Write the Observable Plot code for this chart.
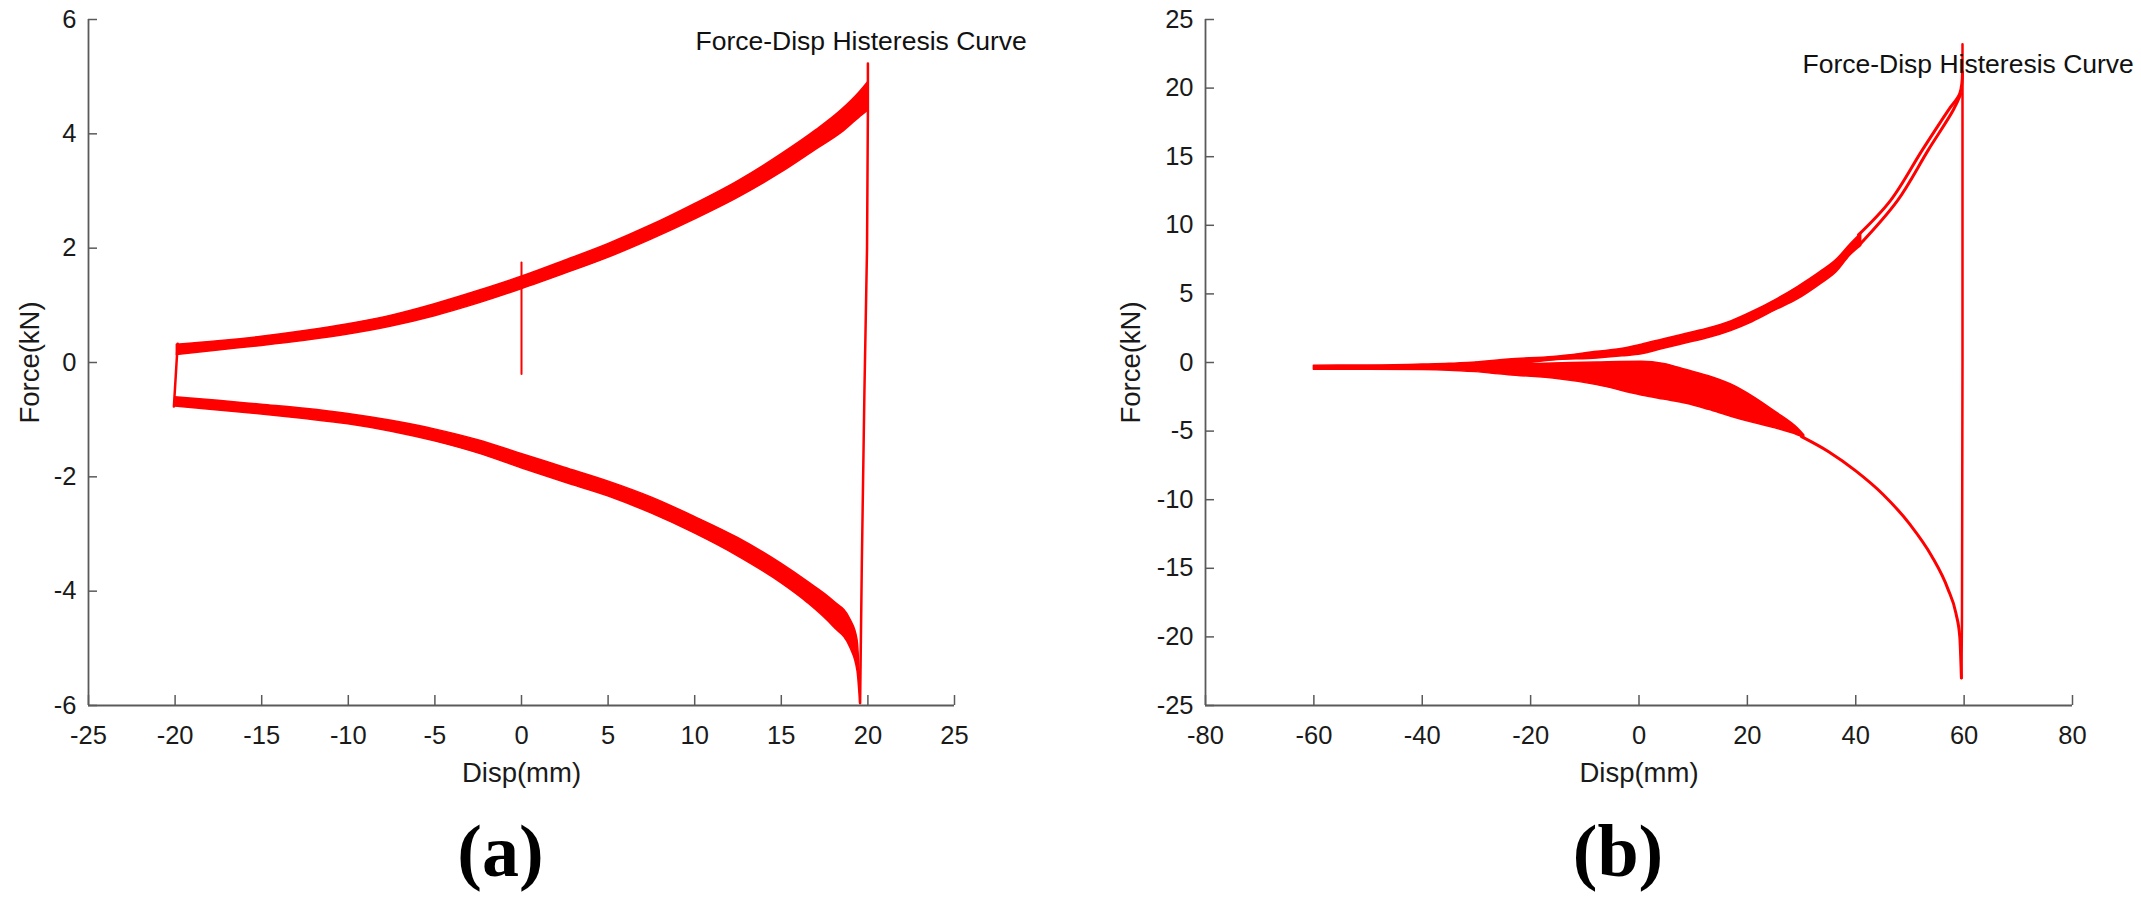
<!DOCTYPE html>
<html>
<head>
<meta charset="utf-8">
<script src="https://cdn.jsdelivr.net/npm/d3@7"></script>
<script src="https://cdn.jsdelivr.net/npm/@observablehq/plot@0.6"></script>
<style>
  html, body { margin: 0; padding: 0; background: #fff; }
  #fig { position: relative; width: 2141px; height: 907px; background: #fff; overflow: hidden; }
  #fig > svg { position: absolute; top: 0; }
</style>
</head>
<body>
<div id="fig"></div>
<script>
// ---------- Panel (a) data ----------
const aXTicks = [-25, -20, -15, -10, -5, 0, 5, 10, 15, 20, 25];
const aYTicks = [-6, -4, -2, 0, 2, 4, 6];

const aUpperX  = [-19.9, -17.5, -15, -12.5, -10, -7.5, -5, -2.5, 0, 2.5, 5, 7.5, 10, 12.5, 15, 17, 18.5, 19.5, 20];
const aUpperLo = [0.13, 0.21, 0.29, 0.38, 0.49, 0.63, 0.81, 1.03, 1.28, 1.55, 1.83, 2.15, 2.50, 2.88, 3.32, 3.72, 4.02, 4.28, 4.40];
const aUpperHi = [0.31, 0.37, 0.45, 0.55, 0.67, 0.82, 1.02, 1.25, 1.50, 1.78, 2.07, 2.40, 2.77, 3.17, 3.64, 4.06, 4.42, 4.72, 4.90];

const aLowerX  = [-20, -17.5, -15, -12.5, -10, -7.5, -5, -2.5, 0, 2.5, 5, 7.5, 10, 12.5, 15, 16.5, 18, 19, 19.4, 19.55];
const aLowerHi = [-0.61, -0.67, -0.74, -0.81, -0.90, -1.02, -1.17, -1.36, -1.60, -1.84, -2.08, -2.36, -2.70, -3.07, -3.52, -3.83, -4.17, -4.50, -4.85, -5.55];
const aLowerLo = [-0.77, -0.84, -0.91, -0.99, -1.08, -1.21, -1.38, -1.59, -1.85, -2.10, -2.34, -2.64, -2.99, -3.39, -3.86, -4.20, -4.62, -5.00, -5.40, -5.96];

const aRiseX  = [19.55, 19.65, 19.8, 19.95, 20.0, 20.0];
const aRiseY  = [-5.96, -3.5, -0.5, 2.0, 4.4, 5.23];
const aLeftX  = [-20.07, -19.85];
const aLeftY  = [-0.77, 0.33];
const aSpikeX = [0, 0];
const aSpikeY = [-0.2, 1.75];

// ---------- Panel (b) data ----------
const bXTicks = [-80, -60, -40, -20, 0, 20, 40, 60, 80];
const bYTicks = [-25, -20, -15, -10, -5, 0, 5, 10, 15, 20, 25];

const bStartX  = [-60, -50, -40, -35, -30];
const bStartLo = [-0.52, -0.52, -0.55, -0.60, -0.70];
const bStartHi = [-0.23, -0.22, -0.15, -0.10, 0.00];

const bUpX  = [-30, -24, -15.8, -7.7, -3, 0.5, 4.6, 8.8, 13, 17, 21, 25.2, 29.3, 33.5, 36.5, 39, 41];
const bUpLo = [-0.30, -0.20, 0.15, 0.30, 0.45, 0.60, 1.00, 1.40, 1.80, 2.30, 2.95, 3.80, 4.60, 5.70, 6.60, 7.80, 8.50];
const bUpHi = [0.00, 0.22, 0.40, 0.78, 1.00, 1.30, 1.70, 2.10, 2.50, 3.00, 3.70, 4.55, 5.50, 6.60, 7.50, 8.60, 9.40];

const bLowX  = [-30, -24, -15.8, -7.7, 0.5, 4.6, 8.8, 12.9, 17, 21.1, 25.2, 29.3, 30.5];
const bLowHi = [-0.10, -0.15, -0.07, 0.00, 0.05, -0.10, -0.55, -1.00, -1.60, -2.50, -3.60, -4.80, -5.30];
const bLowLo = [-0.70, -0.93, -1.17, -1.65, -2.40, -2.70, -3.00, -3.45, -3.95, -4.40, -4.80, -5.30, -5.50];

const bDownX = [30, 35, 40, 45, 50, 54, 57, 58.5, 59.2, 59.5];
const bDownY = [-5.4, -6.5, -7.9, -9.6, -11.8, -14.1, -16.5, -18.3, -20, -23];

const bVertX = [59.5, 59.6, 59.7, 59.7];
const bVertY = [-23, -19, 0, 23.2];

const bUp1X = [40.5, 46.4, 52.3, 57.1, 59.2, 59.7];
const bUp1Y = [9.3, 11.8, 15.5, 18.4, 19.6, 21.2];
const bUp2X = [40.5, 47.7, 53.4, 58.0, 59.4];
const bUp2Y = [8.5, 11.8, 15.5, 18.4, 19.6];

// ---------- texts ----------
const titleText = "Force-Disp Histeresis Curve";
const xLabel = "Disp(mm)";
const yLabel = "Force(kN)";
const captions = ["(a)", "(b)"];

// ---------- helpers ----------
const band = (xs, lo, hi) => xs.map((x, i) => ({x, y1: lo[i], y2: hi[i]}));
const pts = (xs, ys) => xs.map((x, i) => ({x, y: ys[i]}));

const RED = "#ff0000";
const AX = "#5a5a5a";
const SANS = "Liberation Sans, Arial, Helvetica, sans-serif";
const SERIF = "Liberation Serif, Times New Roman, serif";

function panel({left, width, mLeft, mRight, xDomain, yDomain, xTicks, yTicks, marks, titleDx, titleDy, yLabelDx, caption}) {
  const mTop = 19, mBottom = 907 - 705, height = 907;
  const frameW = width - mLeft - mRight, frameH = height - mTop - mBottom;
  const svg = Plot.plot({
    width, height,
    marginLeft: mLeft, marginRight: mRight, marginTop: mTop, marginBottom: mBottom,
    style: {fontFamily: SANS, color: "#1a1a1a", background: "transparent", overflow: "visible"},
    x: {domain: xDomain, nice: false},
    y: {domain: yDomain, nice: false},
    marks: [
      ...marks,
      Plot.ruleX([xDomain[0]], {stroke: AX, strokeWidth: 1.8}),
      Plot.ruleY([yDomain[0]], {stroke: AX, strokeWidth: 1.8}),
      Plot.ruleX(xTicks, {x: d => d, stroke: AX, strokeWidth: 1.5, insetTop: frameH - 10}),
      Plot.ruleY(yTicks, {y: d => d, stroke: AX, strokeWidth: 1.5, insetRight: frameW - 9}),
      Plot.axisX({ticks: xTicks, tickSize: 0, tickPadding: 20, tickFormat: d => String(d), fontSize: 25.5, label: null}),
      Plot.axisY({ticks: yTicks, tickSize: 0, tickPadding: 12, tickFormat: d => String(d), fontSize: 25.5, label: null}),
      Plot.text([xLabel], {text: d => d, frameAnchor: "bottom", dy: 76, lineAnchor: "bottom", fontSize: 27.5, fill: "#1a1a1a"}),
      Plot.text([yLabel], {text: d => d, frameAnchor: "left", dx: yLabelDx, rotate: -90, lineAnchor: "bottom", textAnchor: "middle", fontSize: 27.5, fill: "#1a1a1a"}),
      Plot.text([titleText], {text: d => d, frameAnchor: "top-left", dx: titleDx, dy: titleDy, textAnchor: "start", lineAnchor: "bottom", fontSize: 26.5, fill: "#111"}),
      Plot.text([caption], {text: d => d, frameAnchor: "bottom", dx: -21, dy: 170, lineAnchor: "bottom", fontSize: 74, fontWeight: "bold", fontFamily: SERIF, fill: "#000"})
    ]
  });
  svg.style.left = left + "px";
  return svg;
}

const fig = document.getElementById("fig");

const aMarks = [
  Plot.areaY(band(aUpperX, aUpperLo, aUpperHi), {x: "x", y1: "y1", y2: "y2", fill: RED, stroke: RED, strokeWidth: 1.5, curve: "monotone-x"}),
  Plot.areaY(band(aLowerX, aLowerLo, aLowerHi), {x: "x", y1: "y1", y2: "y2", fill: RED, stroke: RED, strokeWidth: 1.5, curve: "monotone-x"}),
  Plot.line(pts(aRiseX, aRiseY), {x: "x", y: "y", stroke: RED, strokeWidth: 2.5}),
  Plot.line(pts(aLeftX, aLeftY), {x: "x", y: "y", stroke: RED, strokeWidth: 2.5}),
  Plot.line(pts(aSpikeX, aSpikeY), {x: "x", y: "y", stroke: RED, strokeWidth: 2})
];

const bMarks = [
  Plot.areaY(band(bStartX, bStartLo, bStartHi), {x: "x", y1: "y1", y2: "y2", fill: RED, stroke: RED, strokeWidth: 1.5, curve: "monotone-x"}),
  Plot.areaY(band(bUpX, bUpLo, bUpHi), {x: "x", y1: "y1", y2: "y2", fill: RED, stroke: RED, strokeWidth: 1.5, curve: "monotone-x"}),
  Plot.areaY(band(bLowX, bLowLo, bLowHi), {x: "x", y1: "y1", y2: "y2", fill: RED, stroke: RED, strokeWidth: 1.5, curve: "monotone-x"}),
  Plot.line(pts(bDownX, bDownY), {x: "x", y: "y", stroke: RED, strokeWidth: 3, curve: "monotone-x"}),
  Plot.line(pts(bVertX, bVertY), {x: "x", y: "y", stroke: RED, strokeWidth: 2.5}),
  Plot.line(pts(bUp1X, bUp1Y), {x: "x", y: "y", stroke: RED, strokeWidth: 3, curve: "catmull-rom"}),
  Plot.line(pts(bUp2X, bUp2Y), {x: "x", y: "y", stroke: RED, strokeWidth: 3, curve: "catmull-rom"})
];

fig.appendChild(panel({
  left: 0, width: 1070, mLeft: 88, mRight: 1070 - 954,
  xDomain: [-25, 25], yDomain: [-6, 6], xTicks: aXTicks, yTicks: aYTicks,
  marks: aMarks, titleDx: 695 - 88, titleDy: 49 - 19, yLabelDx: 38 - 88, caption: captions[0]
}));

fig.appendChild(panel({
  left: 1070, width: 1071, mLeft: 1205 - 1070, mRight: 1071 - (2072 - 1070),
  xDomain: [-80, 80], yDomain: [-25, 25], xTicks: bXTicks, yTicks: bYTicks,
  marks: bMarks, titleDx: 1802 - 1205, titleDy: 72 - 19, yLabelDx: 1139 - 1205, caption: captions[1]
}));
</script>
</body>
</html>
